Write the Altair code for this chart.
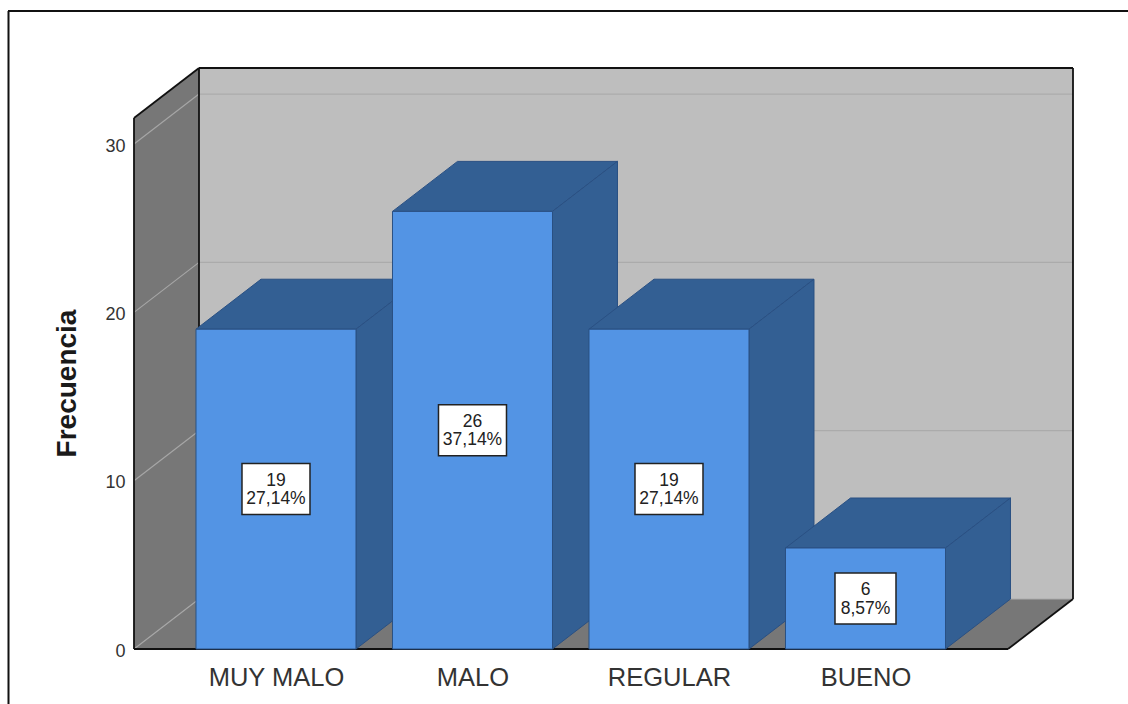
import altair as alt
import pandas as pd

# Frequency table
categories = ["MUY MALO", "MALO", "REGULAR", "BUENO"]
counts = [19, 26, 19, 6]
percent_labels = ["27,14%", "37,14%", "27,14%", "8,57%"]
y_ticks = [0, 10, 20, 30]
y_title = "Frecuencia"

# Plot geometry
PLOT_W, PLOT_H = 939, 581
PAD = {"left": 134, "top": 68, "right": 55, "bottom": 55}
X_DOMAIN = [-0.7226, 4.0560]
Y_DOMAIN = [0, 34.52]
PX_X = PLOT_W / (X_DOMAIN[1] - X_DOMAIN[0])
PX_Y = PLOT_H / Y_DOMAIN[1]
DX = 65 / PX_X   # horizontal depth of the 3D projection
DY = 50 / PX_Y   # vertical depth of the 3D projection
HALF_BAR = 80 / PX_X
XMIN, XMAX = X_DOMAIN
YMAX = Y_DOMAIN[1]

WALL = "#BEBEBE"
SIDE_WALL = "#777777"
FRONT = "#5394E4"
DARK = "#335F93"
EDGE = "#2A5083"
INK = "#111111"

label_expr = "[" + ",".join(f"'{c}'" for c in categories) + "][datum.value]"

x_scale = alt.Scale(domain=X_DOMAIN, nice=False, zero=False)
y_scale = alt.Scale(domain=Y_DOMAIN, nice=False, zero=False)


def X(field="x"):
    return alt.X(f"{field}:Q", scale=x_scale, title=None)


def Y(field="y"):
    return alt.Y(f"{field}:Q", scale=y_scale, title=y_title)


def df(rows):
    return alt.Data(values=rows)


def vertical_face(x0, x1, bottom0, top0, bottom1, top1, fill, stroke=None):
    """Parallelogram whose left and right sides are vertical."""
    rows = [
        {"x": x0, "y": bottom0, "y2": top0},
        {"x": x1, "y": bottom1, "y2": top1},
    ]
    kw = {"stroke": stroke, "strokeWidth": 1} if stroke else {}
    return alt.Chart(df(rows)).mark_area(orient="vertical", color=fill, opacity=1, **kw).encode(
        x=X(), y=Y(), y2="y2:Q"
    )


def horizontal_face(y0, y1, left0, right0, left1, right1, fill, stroke=None):
    """Parallelogram whose top and bottom sides are horizontal."""
    rows = [
        {"y": y0, "x": left0, "x2": right0},
        {"y": y1, "x": left1, "x2": right1},
    ]
    kw = {"stroke": stroke, "strokeWidth": 1} if stroke else {}
    return alt.Chart(df(rows)).mark_area(orient="horizontal", color=fill, opacity=1, **kw).encode(
        y=Y(), x=X(), x2="x2:Q"
    )


def segments(rows, color, width, **kw):
    return alt.Chart(df(rows)).mark_rule(color=color, strokeWidth=width, **kw).encode(
        x=X(), y=Y(), x2="x2:Q", y2="y2:Q"
    )


def seg(x, y, x2, y2):
    return {"x": x, "y": y, "x2": x2, "y2": y2}


# Back wall carries the axes so the shared scales are defined once
back_wall = alt.Chart(df([{"x": XMIN + DX, "x2": XMAX, "y": DY, "y2": YMAX}])).mark_rect(color=WALL).encode(
    x=alt.X("x:Q", scale=x_scale, axis=alt.Axis(
        values=list(range(len(categories))), labelExpr=label_expr, title=None,
        domain=False, ticks=False, grid=False, labelFont="Liberation Sans",
        labelFontSize=25.5, labelColor="#333333", labelPadding=16, labelFlush=False,
        labelOverlap=False,
    )),
    x2="x2:Q",
    y=alt.Y("y:Q", scale=y_scale, axis=alt.Axis(
        values=y_ticks, title=y_title, domain=False, ticks=False, grid=False,
        labelFont="Liberation Sans", labelFontSize=18, labelColor="#333333",
        labelPadding=9, labelOffset=2, titleFont="Liberation Sans", titleFontSize=28,
        titleFontWeight="bold", titleColor="#1a1a1a", titleX=-67, titleY=315,
        titleBaseline="middle", titleAngle=-90, labelOverlap=False,
    )),
    y2="y2:Q",
)

left_wall = vertical_face(XMIN, XMIN + DX, 0, YMAX - DY, DY, YMAX, SIDE_WALL)
floor = horizontal_face(0, DY, XMIN, XMAX - DX, XMIN + DX, XMAX, SIDE_WALL)

wall_grid = segments(
    [seg(XMIN + DX, v + DY, XMAX, v + DY) for v in y_ticks], "#ABABAB", 1.2
)
side_grid = segments(
    [seg(XMIN, v, XMIN + DX, v + DY) for v in y_ticks], "#A6A6A6", 1.2
)

box_outline = segments(
    [
        seg(XMIN, 0, XMIN, YMAX - DY),
        seg(XMIN, YMAX - DY, XMIN + DX, YMAX),
        seg(XMIN + DX, YMAX, XMAX, YMAX),
        seg(XMAX, YMAX, XMAX, DY),
        seg(XMIN + DX, YMAX, XMIN + DX, DY),
        seg(XMIN, 0, XMAX - DX, 0),
        seg(XMAX - DX, 0, XMAX, DY),
    ],
    INK, 1.8,
)

layers = [back_wall, left_wall, floor, wall_grid, side_grid, box_outline]

# Each bar is stacked on top of the previous one so nearer faces hide farther ones
for i, value in enumerate(counts):
    left, right = i - HALF_BAR, i + HALF_BAR
    layers.append(horizontal_face(value, value + DY, left, right, left + DX, right + DX, DARK, EDGE))
    layers.append(vertical_face(right, right + DX, 0, value, DY, value + DY, DARK, EDGE))
    layers.append(
        alt.Chart(df([{"x": left, "x2": right, "y": 0, "y2": value}]))
        .mark_rect(color=FRONT, stroke=EDGE, strokeWidth=1)
        .encode(x=X(), x2="x2:Q", y=Y(), y2="y2:Q")
    )

# Value boxes centred on each bar's front face
boxes = []
for i, (value, pct) in enumerate(zip(counts, percent_labels)):
    half_w = (34 if len(pct) > 5 else 30.5) / PX_X
    half_h = 25.5 / PX_Y
    boxes.append({
        "x": i - half_w, "x2": i + half_w,
        "y": value / 2 - half_h, "y2": value / 2 + half_h,
        "cx": i, "cy": value / 2, "count": str(value), "pct": pct,
    })

layers.append(
    alt.Chart(df(boxes)).mark_rect(color="white", stroke="#222222", strokeWidth=1.5)
    .encode(x=X(), x2="x2:Q", y=Y(), y2="y2:Q")
)
for field, offset in (("count", -8.5), ("pct", 10)):
    layers.append(
        alt.Chart(df(boxes))
        .mark_text(font="Liberation Sans", fontSize=17.5, color="#222222", dy=offset, baseline="middle")
        .encode(x=X("cx"), y=Y("cy"), text=f"{field}:N")
    )

# Outer frame: top and left edges only
layers.append(
    alt.Chart(df([{"k": 0}])).mark_rule(color=INK, strokeWidth=2)
    .encode(x=alt.value(-125.5), y=alt.value(-57), y2=alt.value(636))
)
layers.append(
    alt.Chart(df([{"k": 0}])).mark_rule(color=INK, strokeWidth=2)
    .encode(y=alt.value(-57), x=alt.value(-126), x2=alt.value(994))
)

chart = (
    alt.layer(*layers)
    .properties(width=PLOT_W, height=PLOT_H, padding=PAD, autosize=alt.AutoSizeParams(type="none"),
                background="white")
    .configure_view(stroke=None)
)

chart.save("out.html", embed_options={"renderer": "svg", "actions": False})
